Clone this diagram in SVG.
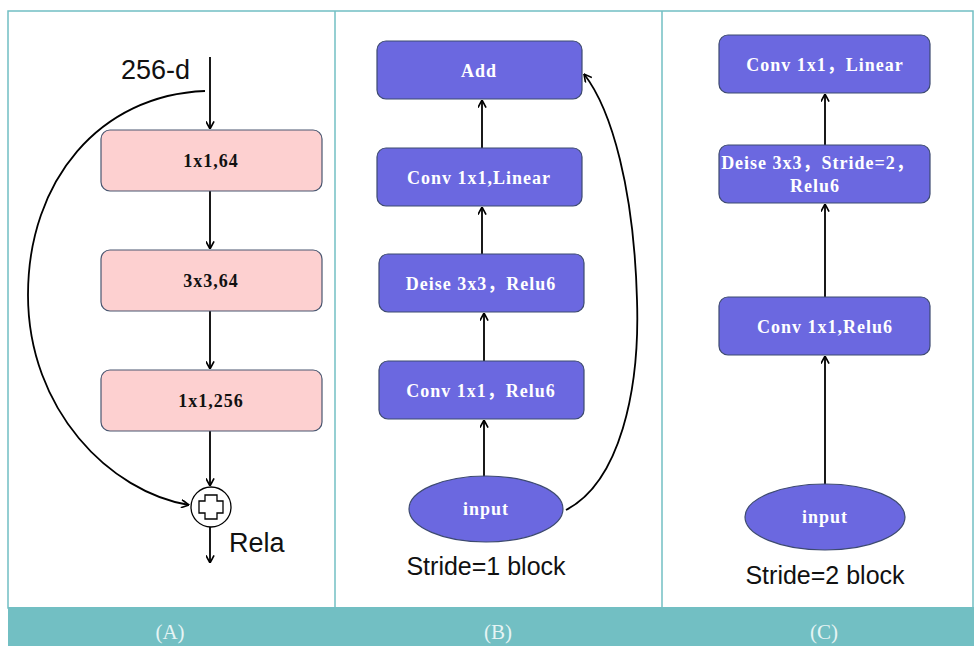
<svg xmlns="http://www.w3.org/2000/svg" width="974" height="646" viewBox="0 0 974 646">
<style>
.pink{fill:#fdd0d0;stroke:#4a5670;stroke-width:1.2}
.blue{fill:#6b68e0;stroke:#3d4a70;stroke-width:1.2}
.tb{font-family:"Liberation Serif","Noto Sans CJK SC",serif;font-weight:bold;font-size:18px;letter-spacing:1px;text-anchor:middle;fill:#111}
.tw{font-family:"Liberation Serif","Noto Sans CJK SC",serif;font-weight:bold;font-size:18px;letter-spacing:1px;text-anchor:middle;fill:#fff}
.ta{font-family:"Liberation Sans",Arial,sans-serif;font-size:27px;fill:#111}
.ts{font-family:"Liberation Sans",Arial,sans-serif;font-size:25px;fill:#111;text-anchor:middle}
.cap{font-family:"Liberation Serif",serif;font-size:21px;text-anchor:middle;fill:#e6f4f4}
.ln{fill:none;stroke:#000;stroke-width:1.8}
.frame{fill:none;stroke:#72bfc3;stroke-width:1.5}
</style>
<defs>
<marker id="ah" viewBox="0 0 10 10" refX="9.5" refY="5" markerWidth="9" markerHeight="9" markerUnits="userSpaceOnUse" orient="auto">
<path d="M1,0.5 L9.5,5 L1,9.5" fill="none" stroke="#000" stroke-width="1.8"/>
</marker>
</defs>
<rect width="974" height="646" fill="#fff"/>
<rect x="8" y="11" width="965" height="597" class="frame"/>
<line x1="335" y1="11" x2="335" y2="607" class="frame"/>
<line x1="662" y1="11" x2="662" y2="607" class="frame"/>
<rect x="8" y="607" width="966" height="39" fill="#72bfc3"/>
<g id="captions">
<text x="170" y="639" class="cap">(A)</text>
<text x="498" y="639" class="cap">(B)</text>
<text x="824" y="639" class="cap">(C)</text>
</g>

<g id="connectors">
<line x1="210" y1="57" x2="210" y2="129" class="ln" marker-end="url(#ah)"/>
<line x1="210" y1="191" x2="210" y2="249" class="ln" marker-end="url(#ah)"/>
<line x1="210" y1="311" x2="210" y2="369" class="ln" marker-end="url(#ah)"/>
<line x1="210" y1="431" x2="210" y2="486" class="ln" marker-end="url(#ah)"/>
<line x1="210" y1="527" x2="210" y2="563" class="ln" marker-end="url(#ah)"/>
<path d="M205,91 C100,95 28,180 28,295 C28,410 110,492 189,505" class="ln" marker-end="url(#ah)"/>

<line x1="482" y1="148" x2="482" y2="100" class="ln" marker-end="url(#ah)"/>
<line x1="482" y1="254" x2="482" y2="207" class="ln" marker-end="url(#ah)"/>
<line x1="484" y1="361" x2="484" y2="313" class="ln" marker-end="url(#ah)"/>
<line x1="484" y1="477" x2="484" y2="420" class="ln" marker-end="url(#ah)"/>
<path d="M566,510 C620,482 640,390 637,300 C634,190 612,110 584,74" class="ln" marker-end="url(#ah)"/>

<line x1="825" y1="484" x2="825" y2="356" class="ln" marker-end="url(#ah)"/>
<line x1="825" y1="297" x2="825" y2="204" class="ln" marker-end="url(#ah)"/>
<line x1="825" y1="145" x2="825" y2="94" class="ln" marker-end="url(#ah)"/>
</g>

<g id="a-label"><text x="121" y="79" class="ta">256-d</text></g>
<g id="a1"><rect x="101" y="130" width="221" height="61" rx="9" class="pink"/><text x="211" y="167" class="tb">1x1,64</text></g>
<g id="a2"><rect x="101" y="250" width="221" height="61" rx="9" class="pink"/><text x="211" y="287" class="tb">3x3,64</text></g>
<g id="a3"><rect x="101" y="370" width="221" height="61" rx="9" class="pink"/><text x="211" y="407" class="tb">1x1,256</text></g>
<g id="a-sum">
<circle cx="211" cy="507" r="20" fill="#fff" stroke="#000" stroke-width="1.3"/>
<path d="M205,495 h12 v6 h6 v12 h-6 v6 h-12 v-6 h-6 v-12 h6 z" fill="#fff" stroke="#000" stroke-width="1.3"/>
</g>
<g id="a-rela"><text x="229" y="552" class="ta">Rela</text></g>

<g id="b-add"><rect x="377" y="41" width="205" height="58" rx="9" class="blue"/><text x="479" y="77" class="tw">Add</text></g>
<g id="b-linear"><rect x="377" y="148" width="205" height="58" rx="9" class="blue"/><text x="479" y="184" class="tw">Conv 1x1,Linear</text></g>
<g id="b-deise"><rect x="379" y="254" width="205" height="58" rx="9" class="blue"/><text x="481" y="290" class="tw">Deise 3x3，Relu6</text></g>
<g id="b-conv"><rect x="379" y="361" width="205" height="58" rx="9" class="blue"/><text x="481" y="397" class="tw">Conv 1x1，Relu6</text></g>
<g id="b-input"><ellipse cx="486" cy="509" rx="77" ry="33" class="blue"/><text x="486" y="515" class="tw">input</text></g>
<g id="b-label"><text x="486" y="575" class="ts">Stride=1 block</text></g>

<g id="c-linear"><rect x="719" y="35" width="211" height="58" rx="9" class="blue"/><text x="825" y="71" class="tw">Conv 1x1，Linear</text></g>
<g id="c-deise"><rect x="719" y="145" width="211" height="58" rx="9" class="blue"/><text x="818" y="169" class="tw">Deise 3x3，Stride=2，</text><text x="815" y="192" class="tw">Relu6</text></g>
<g id="c-conv"><rect x="719" y="297" width="211" height="58" rx="9" class="blue"/><text x="825" y="333" class="tw">Conv 1x1,Relu6</text></g>
<g id="c-input"><ellipse cx="825" cy="517" rx="80" ry="33" class="blue"/><text x="825" y="523" class="tw">input</text></g>
<g id="c-label"><text x="825" y="584" class="ts">Stride=2 block</text></g>
</svg>
